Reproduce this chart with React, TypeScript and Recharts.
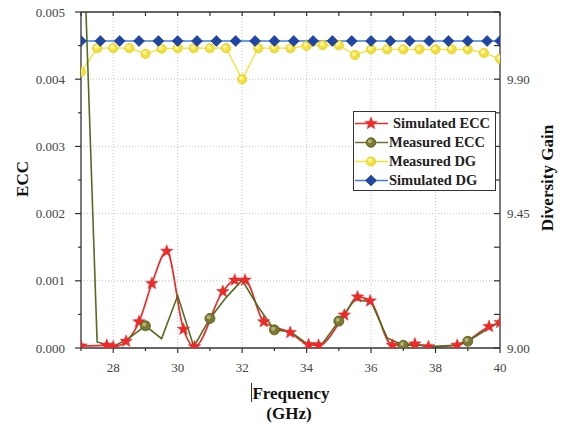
/**
 * EccDgChart — ECC (left axis) and diversity gain (right axis) vs frequency.
 */
import { ComposedChart, Line, XAxis, YAxis, CartesianGrid } from "recharts";

// ─── Data ─────────────────────────────────────────────────────────────────────

const simEccFreq = [
  27, 27.8, 28, 28.4, 28.8, 29.2, 29.66, 30.18, 30.52, 31.4, 31.77, 32.09, 32.67,
  33.49, 34.06, 34.37, 35.17, 35.58, 35.97, 36.66, 37.36, 37.78, 38.67, 39.66, 40,
];
const simEccVal = [
  0.00003, 0.00004, 0.00002, 0.0001, 0.00039, 0.00096, 0.00144, 0.00028, 0.00002,
  0.00084, 0.00101, 0.00101, 0.00039, 0.00023, 0.00005, 0.00004, 0.00049, 0.00076,
  0.0007, 0.00004, 0.00006, 0.00002, 0.00004, 0.00032, 0.00038,
];

const measFreq = [
  27, 27.5, 28, 28.5, 29, 29.5, 30, 30.5, 31, 31.5, 32, 32.5, 33, 33.5, 34, 34.5,
  35, 35.5, 36, 36.5, 37, 37.5, 38, 38.5, 39, 39.5, 40,
];
const measEccVal = [
  0.0072, 0.00009, 0.00002, 0.00015, 0.00033, 0.00014, 0.00078, 0.00002, 0.00044,
  0.00075, 0.00101, 0.00061, 0.00027, 0.00024, 0.00007, 0.00007, 0.0004, 0.00072,
  0.00069, 0.00015, 0.00004, 0.00004, 0.00002, 0.00004, 0.0001, 0.00025, 0.00039,
];
const measDgVal = [
  9.924, 10.004, 10.004, 10.004, 9.985, 10.002, 10.004, 10.004, 10.004, 10.004, 9.9,
  10.004, 10.004, 10.004, 10.012, 10.014, 10.014, 9.981, 10.0, 10.0, 10.0, 10.0,
  10.0, 10.0, 10.0, 9.988, 9.968,
];

const simDgFreq = [
  27, 27.6, 28.2, 28.8, 29.4, 30, 30.6, 31.2, 31.8, 32.4, 33, 33.6, 34.2, 34.8,
  35.4, 36, 36.6, 37.2, 37.8, 38.4, 39, 39.6, 40,
];
const simDgVal = [
  10.028, 10.028, 10.028, 10.028, 10.028, 10.028, 10.028, 10.028, 10.028, 10.028,
  10.028, 10.028, 10.028, 10.028, 10.028, 10.028, 10.028, 10.028, 10.028, 10.028,
  10.028, 10.028, 10.028,
];

const freqTicks = [27, 28, 29, 30, 31, 32, 33, 34, 35, 36, 37, 38, 39, 40];
const eccTicks = [
  0, 0.0005, 0.001, 0.0015, 0.002, 0.0025, 0.003, 0.0035, 0.004, 0.0045, 0.005,
];
const dgTicks = [
  9, 9.1125, 9.225, 9.3375, 9.45, 9.5625, 9.675, 9.7875, 9.9, 10.0125, 10.125,
];
const gridFreq = [28, 30, 32, 34, 36, 38];
const gridEcc = [0.001, 0.002, 0.003, 0.004];

const simEcc = simEccFreq.map((f, i) => ({ f, v: simEccVal[i] }));
const measEcc = measFreq.map((f, i) => ({ f, v: measEccVal[i] }));
const measDg = measFreq.map((f, i) => ({ f, v: measDgVal[i] }));
const simDg = simDgFreq.map((f, i) => ({ f, v: simDgVal[i] }));

// ─── Styling ──────────────────────────────────────────────────────────────────

const SERIF = "'Liberation Serif', 'Times New Roman', serif";
const AXIS = "#333";
const TICK_TEXT = "#444";

const C_SIM_ECC = "#ec2a2a";
const C_MEAS_ECC = "#4f6e1f";
const C_MEAS_ECC_DOT = "#7a7a32";
const C_MEAS_DG = "#f2e13a";
const C_SIM_DG_LINE = "#3d7fd8";
const C_SIM_DG_DOT = "#1f45a5";

// ─── Markers ──────────────────────────────────────────────────────────────────

function starPoints(cx: number, cy: number, R: number, r: number) {
  const pts: string[] = [];
  for (let i = 0; i < 10; i++) {
    const a = -Math.PI / 2 + (i * Math.PI) / 5;
    const rad = i % 2 === 0 ? R : r;
    pts.push(`${cx + rad * Math.cos(a)},${cy + rad * Math.sin(a)}`);
  }
  return pts.join(" ");
}

function Star({ cx, cy, size = 6.5 }: { cx?: number; cy?: number; size?: number }) {
  if (cx == null || cy == null) return <g />;
  return <polygon points={starPoints(cx, cy, size, size * 0.42)} fill={C_SIM_ECC} stroke={C_SIM_ECC} strokeWidth={0.5} />;
}

function Diamond({ cx, cy, s = 5.5 }: { cx?: number; cy?: number; s?: number }) {
  if (cx == null || cy == null) return <g />;
  return (
    <polygon
      points={`${cx},${cy - s} ${cx + s},${cy} ${cx},${cy + s} ${cx - s},${cy}`}
      fill={C_SIM_DG_DOT}
      stroke="#17378a"
      strokeWidth={0.6}
    />
  );
}

function YellowDot({ cx, cy, r = 4.6 }: { cx?: number; cy?: number; r?: number }) {
  if (cx == null || cy == null) return <g />;
  return (
    <g>
      <circle cx={cx} cy={cy} r={r} fill={C_MEAS_DG} stroke="#e2cc1e" strokeWidth={0.8} />
      <circle cx={cx - 1} cy={cy - 1} r={r * 0.45} fill="#fbf3a0" />
    </g>
  );
}

function OliveDot({ cx, cy, r = 5 }: { cx?: number; cy?: number; r?: number }) {
  if (cx == null || cy == null) return <g />;
  return (
    <g>
      <circle cx={cx} cy={cy} r={r} fill={C_MEAS_ECC_DOT} stroke="#55551f" strokeWidth={0.8} />
      <circle cx={cx - 1.2} cy={cy - 1.2} r={r * 0.4} fill="#b5b574" />
    </g>
  );
}

// ─── Ticks ────────────────────────────────────────────────────────────────────

type TickProps = { x: number; y: number; payload: { value: number } };

function BottomTick({ x, y, payload }: TickProps) {
  const v = payload.value;
  const major = Math.round(v) % 2 === 0;
  return (
    <g>
      <line x1={x} y1={y} x2={x} y2={y + (major ? 5 : 3)} stroke={AXIS} strokeWidth={1.2} />
      {major && (
        <text x={x} y={y + 23.5} textAnchor="middle" fontFamily={SERIF} fontSize={13} fill={TICK_TEXT}>
          {v}
        </text>
      )}
    </g>
  );
}

function TopTick({ x, y }: TickProps) {
  return <line x1={x} y1={y} x2={x} y2={y + 4} stroke={AXIS} strokeWidth={1.2} />;
}

function LeftTick({ x, y, payload }: TickProps) {
  const v = payload.value;
  const major = Math.round(v * 2000) % 2 === 0;
  return (
    <g>
      <line x1={x} y1={y} x2={x - (major ? 6 : 3)} y2={y} stroke={AXIS} strokeWidth={1.2} />
      {major && (
        <text x={x - 16} y={y + 4.5} textAnchor="end" fontFamily={SERIF} fontSize={13} fill={TICK_TEXT}>
          {v.toFixed(3)}
        </text>
      )}
    </g>
  );
}

function RightTick({ x, y, payload }: TickProps) {
  const v = payload.value;
  const major = Math.round((v - 9) / 0.1125) % 4 === 0;
  return (
    <g>
      <line x1={x} y1={y} x2={x - 6} y2={y} stroke={AXIS} strokeWidth={1.2} />
      {major && (
        <text x={x + 7} y={y + 4.5} textAnchor="start" fontFamily={SERIF} fontSize={13} fill={TICK_TEXT}>
          {v.toFixed(2)}
        </text>
      )}
    </g>
  );
}

// ─── Legend ───────────────────────────────────────────────────────────────────

const legendRows = [
  { name: "Simulated ECC", color: C_SIM_ECC, marker: "star" },
  { name: "Measured ECC", color: "#6f7030", marker: "olive" },
  { name: "Measured DG", color: C_MEAS_DG, marker: "yellow" },
  { name: "Simulated DG", color: C_SIM_DG_LINE, marker: "diamond" },
];

function LegendBox() {
  return (
    <div
      style={{
        position: "absolute",
        left: 353,
        top: 111,
        width: 141,
        height: 76,
        border: "1px solid #333",
        background: "#fff",
        paddingTop: 2,
        boxSizing: "content-box",
      }}
    >
      {legendRows.map((row, i) => (
        <div key={row.name} style={{ display: "flex", alignItems: "center", height: 19 }}>
          <svg width={35} height={19} style={{ flex: "none" }}>
            <line x1={1} y1={9.5} x2={34} y2={9.5} stroke={row.color} strokeWidth={1.6} />
            {row.marker === "star" && <Star cx={17} cy={9.5} />}
            {row.marker === "olive" && <OliveDot cx={17} cy={9.5} r={4.8} />}
            {row.marker === "yellow" && <YellowDot cx={17} cy={9.5} />}
            {row.marker === "diamond" && <Diamond cx={17} cy={9.5} />}
          </svg>
          <span
            style={{
              marginLeft: i === 0 ? 4 : 0,
              fontFamily: SERIF,
              fontWeight: 700,
              fontSize: 14.5,
              color: "#222",
              whiteSpace: "nowrap",
            }}
          >
            {row.name}
          </span>
        </div>
      ))}
    </div>
  );
}

// ─── Component ────────────────────────────────────────────────────────────────

const titleStyle: React.CSSProperties = {
  position: "absolute",
  fontFamily: SERIF,
  fontWeight: 700,
  fontSize: 17,
  color: "#111",
  whiteSpace: "nowrap",
  lineHeight: 1,
};

export default function App() {
  return (
    <div style={{ position: "relative", width: 565, height: 424, background: "#fff" }}>
      <style>{"body{margin:0}"}</style>
      <ComposedChart width={565} height={424} margin={{ top: 0, right: 0, bottom: 0, left: 0 }}>
        <CartesianGrid
          xAxisId="bottom"
          yAxisId="ecc"
          verticalValues={gridFreq}
          horizontalValues={gridEcc}
          stroke="#c4c4c4"
          strokeDasharray="1 2"
        />
        <XAxis
          xAxisId="bottom"
          dataKey="f"
          type="number"
          domain={[27, 40]}
          ticks={freqTicks}
          allowDataOverflow
          height={76}
          tickSize={0}
          tickMargin={0}
          tickLine={false}
          axisLine={{ stroke: AXIS, strokeWidth: 1.3 }}
          tick={(p: TickProps) => <BottomTick {...p} />}
          interval={0}
        />
        <XAxis
          xAxisId="top"
          orientation="top"
          dataKey="f"
          type="number"
          domain={[27, 40]}
          ticks={freqTicks}
          allowDataOverflow
          height={12}
          tickSize={0}
          tickMargin={0}
          tickLine={false}
          axisLine={{ stroke: AXIS, strokeWidth: 1.3 }}
          tick={(p: TickProps) => <TopTick {...p} />}
          interval={0}
        />
        <YAxis
          yAxisId="ecc"
          orientation="left"
          type="number"
          domain={[0, 0.005]}
          ticks={eccTicks}
          allowDataOverflow
          width={81}
          tickSize={0}
          tickMargin={0}
          tickLine={false}
          axisLine={{ stroke: AXIS, strokeWidth: 1.3 }}
          tick={(p: TickProps) => <LeftTick {...p} />}
          interval={0}
        />
        <YAxis
          yAxisId="dg"
          orientation="right"
          type="number"
          domain={[9, 10.125]}
          ticks={dgTicks}
          allowDataOverflow
          width={65}
          tickSize={0}
          tickMargin={0}
          tickLine={false}
          axisLine={{ stroke: AXIS, strokeWidth: 1.3 }}
          tick={(p: TickProps) => <RightTick {...p} />}
          interval={0}
        />

        <Line
          xAxisId="bottom"
          yAxisId="dg"
          data={measDg}
          dataKey="v"
          stroke={C_MEAS_DG}
          strokeWidth={1.4}
          dot={(p: any) => <YellowDot key={`md${p.index}`} cx={p.cx} cy={p.cy} />}
          activeDot={false}
          isAnimationActive={false}
        />
        <Line
          xAxisId="bottom"
          yAxisId="dg"
          data={simDg}
          dataKey="v"
          stroke={C_SIM_DG_LINE}
          strokeWidth={1.6}
          dot={(p: any) => <Diamond key={`sd${p.index}`} cx={p.cx} cy={p.cy} />}
          activeDot={false}
          isAnimationActive={false}
        />
        <Line
          xAxisId="bottom"
          yAxisId="ecc"
          data={simEcc}
          dataKey="v"
          type="monotone"
          stroke={C_SIM_ECC}
          strokeWidth={1.7}
          dot={(p: any) => <Star key={`se${p.index}`} cx={p.cx} cy={p.cy} />}
          activeDot={false}
          isAnimationActive={false}
        />
        <Line
          xAxisId="bottom"
          yAxisId="ecc"
          data={measEcc}
          dataKey="v"
          stroke={C_MEAS_ECC}
          strokeWidth={1.6}
          dot={(p: any) =>
            p.payload && Math.round(p.payload.f * 2) % 4 === 2 && p.payload.f > 28 ? (
              <OliveDot key={`me${p.index}`} cx={p.cx} cy={p.cy} />
            ) : (
              <g key={`me${p.index}`} />
            )
          }
          activeDot={false}
          isAnimationActive={false}
        />
      </ComposedChart>

      <LegendBox />

      <div style={{ ...titleStyle, left: 22, top: 179, transform: "translate(-50%, -50%) rotate(-90deg)" }}>ECC</div>
      <div style={{ ...titleStyle, left: 547, top: 178, transform: "translate(-50%, -50%) rotate(-90deg)" }}>
        Diversity Gain
      </div>
      <div style={{ ...titleStyle, left: 291, top: 393, transform: "translate(-50%, -50%)" }}>Frequency</div>
      <div style={{ ...titleStyle, left: 289, top: 413, transform: "translate(-50%, -50%)" }}>(GHz)</div>
      <div style={{ position: "absolute", left: 251, top: 383, width: 1, height: 19, background: "#333" }} />
    </div>
  );
}
